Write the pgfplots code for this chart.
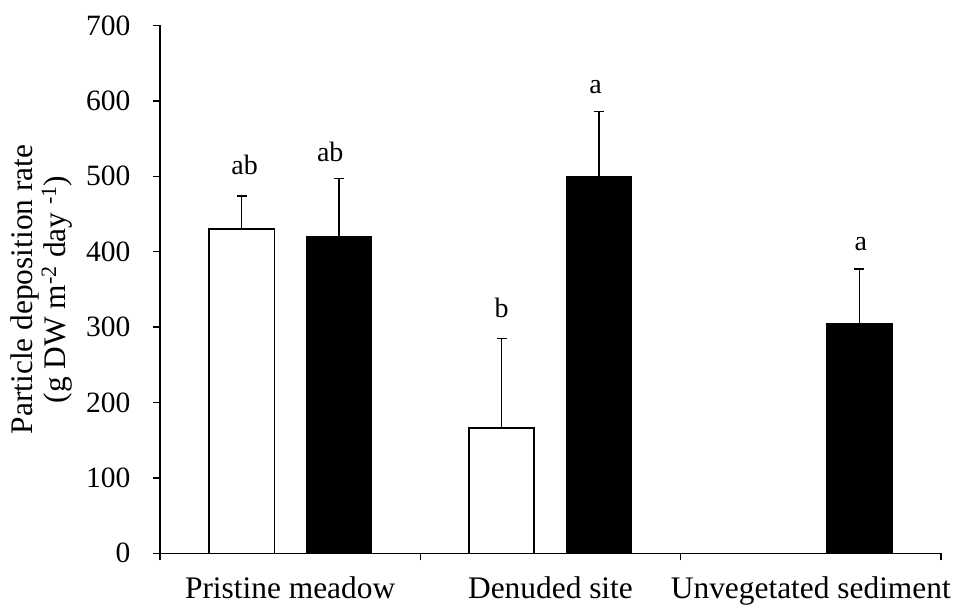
\documentclass[border=0pt]{standalone}
\usepackage{fontspec}
\setmainfont{Liberation Serif}
\usepackage{pgfplots}
\pgfplotsset{compat=1.18}

\newcommand{\chartfont}{\fontsize{31.4}{33}\selectfont}
\newcommand{\tickfont}{\fontsize{29.5}{31}\selectfont}
\newcommand{\letterfont}{\fontsize{28}{30}\selectfont}

\begin{document}
\chartfont
\begin{tikzpicture}
\useasboundingbox (-160pt,-59.7pt) rectangle (799pt,553.3pt);
\begin{axis}[
  scale only axis,
  width=781pt, height=527.8pt,
  xmin=0, xmax=3, ymin=0, ymax=700,
  axis x line*=bottom, axis y line*=left,
  axis line style={line width=1.3pt, black},
  xtick={0,1,2,3},
  xticklabels={Pristine meadow, Denuded site, Unvegetated sediment},
  x tick label as interval,
  ytick={0,100,...,700},
  tick align=outside,
  major tick length=7pt,
  tick style={black, line width=1.3pt},
  xticklabel style={font=\chartfont, yshift=-6pt},
  yticklabel style={font=\tickfont, xshift=-12pt},
  /pgf/number format/assume math mode=true,
  ylabel={Particle deposition rate\\(g DW m\textsuperscript{-2} day \textsuperscript{-1})},
  ylabel style={font=\chartfont, align=center,
    at={(axis description cs:-0.0992,0.5)}, anchor=south},
  ybar, bar width=0.25, bar shift=0pt,
  clip=false,
]
% open bars
\addplot[fill=white, draw=black, line width=1.5pt,
  error bars/.cd, y dir=plus, y explicit, error mark=|,
  error bar style={line width=1.3pt, black},
  error mark options={black, line width=1.3pt, mark size=5pt}]
  coordinates {(0.314,430) +- (0,44) (1.312,166) +- (0,119)};
% filled bars
\addplot[fill=black, draw=black, line width=1.5pt,
  error bars/.cd, y dir=plus, y explicit, error mark=|,
  error bar style={line width=1.3pt, black},
  error mark options={black, line width=1.3pt, mark size=5pt}]
  coordinates {(0.688,420) +- (0,77) (1.686,500) +- (0,86) (2.686,305) +- (0,72)};

% significance letters
\node[anchor=base, font=\letterfont] at (axis cs:0.325,502) {ab};
\node[anchor=base, font=\letterfont] at (axis cs:0.654,519) {ab};
\node[anchor=base, font=\letterfont] at (axis cs:1.312,313) {b};
\node[anchor=base, font=\letterfont] at (axis cs:1.673,610) {a};
\node[anchor=base, font=\letterfont] at (axis cs:2.692,401) {a};
\end{axis}
\end{tikzpicture}
\end{document}
